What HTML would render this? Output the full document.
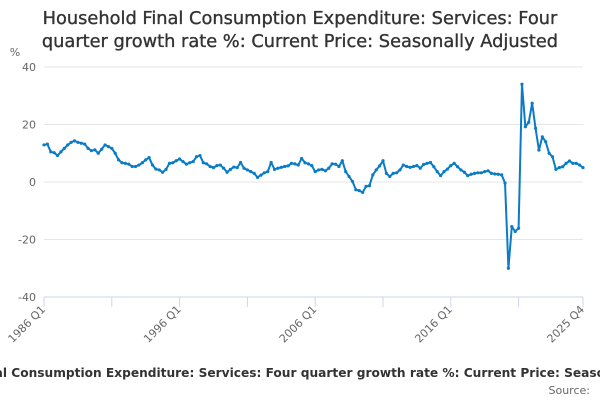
<!DOCTYPE html>
<html><head><meta charset="utf-8"><style>
html,body{margin:0;padding:0;background:#fff;width:600px;height:400px;overflow:hidden}
svg{display:block;font-family:"DejaVu Sans","Liberation Sans",sans-serif}
</style></head><body>
<svg id="chart" width="600" height="400">
<text x="300" y="24" text-anchor="middle" font-size="17.8" fill="#333" stroke="#333" stroke-width="0.35">Household Final Consumption Expenditure: Services: Four</text>
<text x="300" y="47" text-anchor="middle" font-size="17.8" fill="#333" stroke="#333" stroke-width="0.35">quarter growth rate %: Current Price: Seasonally Adjusted</text>
<text x="15" y="56" text-anchor="middle" font-size="11" fill="#666">%</text>
<g id="grid"></g><g id="xaxis"></g><g id="series"></g>
<text x="300" y="377" text-anchor="middle" font-size="12.2" font-weight="bold" fill="#333">Household Final Consumption Expenditure: Services: Four quarter growth rate %: Current Price: Seasonally Adjusted</text>
<text x="590" y="394" text-anchor="end" font-size="11" fill="#666">Source:</text>
</svg>
<script>
const yTicks=[40,20,0,-20,-40];
const xTickLabels=["1986 Q1","1996 Q1","2006 Q1","2016 Q1","2025 Q4"];
const xTickIndex=[0,40,80,120,159];
const values=[12.9,13.2,10.5,10.2,9.2,10.5,11.7,12.9,13.8,14.3,13.8,13.5,13.2,11.7,10.9,11.2,10,11.4,12.9,12.3,
11.7,10,7.7,6.7,6.5,6.2,5.4,5.4,5.9,6.7,7.7,8.5,5.9,4.5,4.2,3.4,4.4,6.5,6.7,7.4,
8,7.1,6.2,6.7,7.1,8.8,9.2,6.7,6.3,5.4,5,5.7,5.9,4.8,3.4,4.4,5.2,5,6.8,4.8,
4.2,3.6,3,1.6,2.4,3.2,3.6,6.8,4.4,4.8,5.1,5.4,5.6,6.5,6.3,5.9,8.2,6.7,6.3,5.7,
3.6,4.2,4.4,3.9,4.8,6.3,6.2,5.4,7.4,3.6,1.9,0.2,-2.7,-3,-3.6,-1.5,-1.3,2.5,4.2,5.6,
7.4,3,1.9,3,3.2,4.2,5.9,5.4,5.1,5.4,5.7,4.8,6.1,6.5,6.8,5.3,3.6,2.2,3.6,4.5,
5.7,6.5,5.3,4.2,3.4,2.2,2.7,3,3.2,3.2,3.6,3.9,3,2.8,2.7,2.5,-0.4,-30,-15.5,-17.2,
-16.1,34,19.2,20.8,27.4,18.7,11.1,15.7,14,10,8.8,4.4,5,5.3,6.5,7.3,6.5,6.5,5.9,5];
const X0=44,X1=583,Y0=67,Y1=297,NS="http://www.w3.org/2000/svg";
const xs=i=>X0+(X1-X0)*i/(values.length-1);
const ys=v=>Y0+(40-v)/80*(Y1-Y0);
function mk(t,a,p){const e=document.createElementNS(NS,t);for(const k in a)e.setAttribute(k,a[k]);p.appendChild(e);return e;}
const grid=document.getElementById('grid');
yTicks.forEach(v=>{
 if(v!==-40){const l=mk('line',{x1:X0,x2:X1,y1:ys(v),y2:ys(v),stroke:'#e6e6e6','stroke-width':1},grid);
 
 }
 const t=mk('text',{x:36,y:ys(v)+4,'text-anchor':'end','font-size':11,fill:'#666'},grid);
 t.textContent=v;
 
 
});
const xa=document.getElementById('xaxis');
const ax=mk('line',{x1:X0,x2:X1,y1:Y1,y2:Y1,stroke:'#ccd6eb','stroke-width':1},xa);


for(let i=0;i<values.length;i+=20){const tk=mk('line',{x1:xs(i),x2:xs(i),y1:Y1,y2:Y1+10,stroke:'#ccd6eb'},xa);
 
 }
const tkl=mk('line',{x1:xs(159),x2:xs(159),y1:Y1,y2:Y1+10,stroke:'#ccd6eb'},xa);


xTickLabels.forEach((s,k)=>{const x=xs(xTickIndex[k]);
 const t=mk('text',{x:x+2,y:Y1+13,'text-anchor':'end','font-size':11,fill:'#666',transform:`rotate(-45 ${x+2} ${Y1+13})`},xa);
 t.textContent=s;
 
 });
const sg=document.getElementById('series');
const path=mk('polyline',{points:values.map((v,i)=>xs(i)+','+ys(v)).join(' '),fill:'none',stroke:'#0a7bc4','stroke-width':2,'stroke-linejoin':'round'},sg);


values.forEach((v,i)=>{const c=mk('circle',{cx:xs(i),cy:ys(v),r:1.6,fill:'#0a7bc4'},sg);
 
 });
</script>
</body></html>
